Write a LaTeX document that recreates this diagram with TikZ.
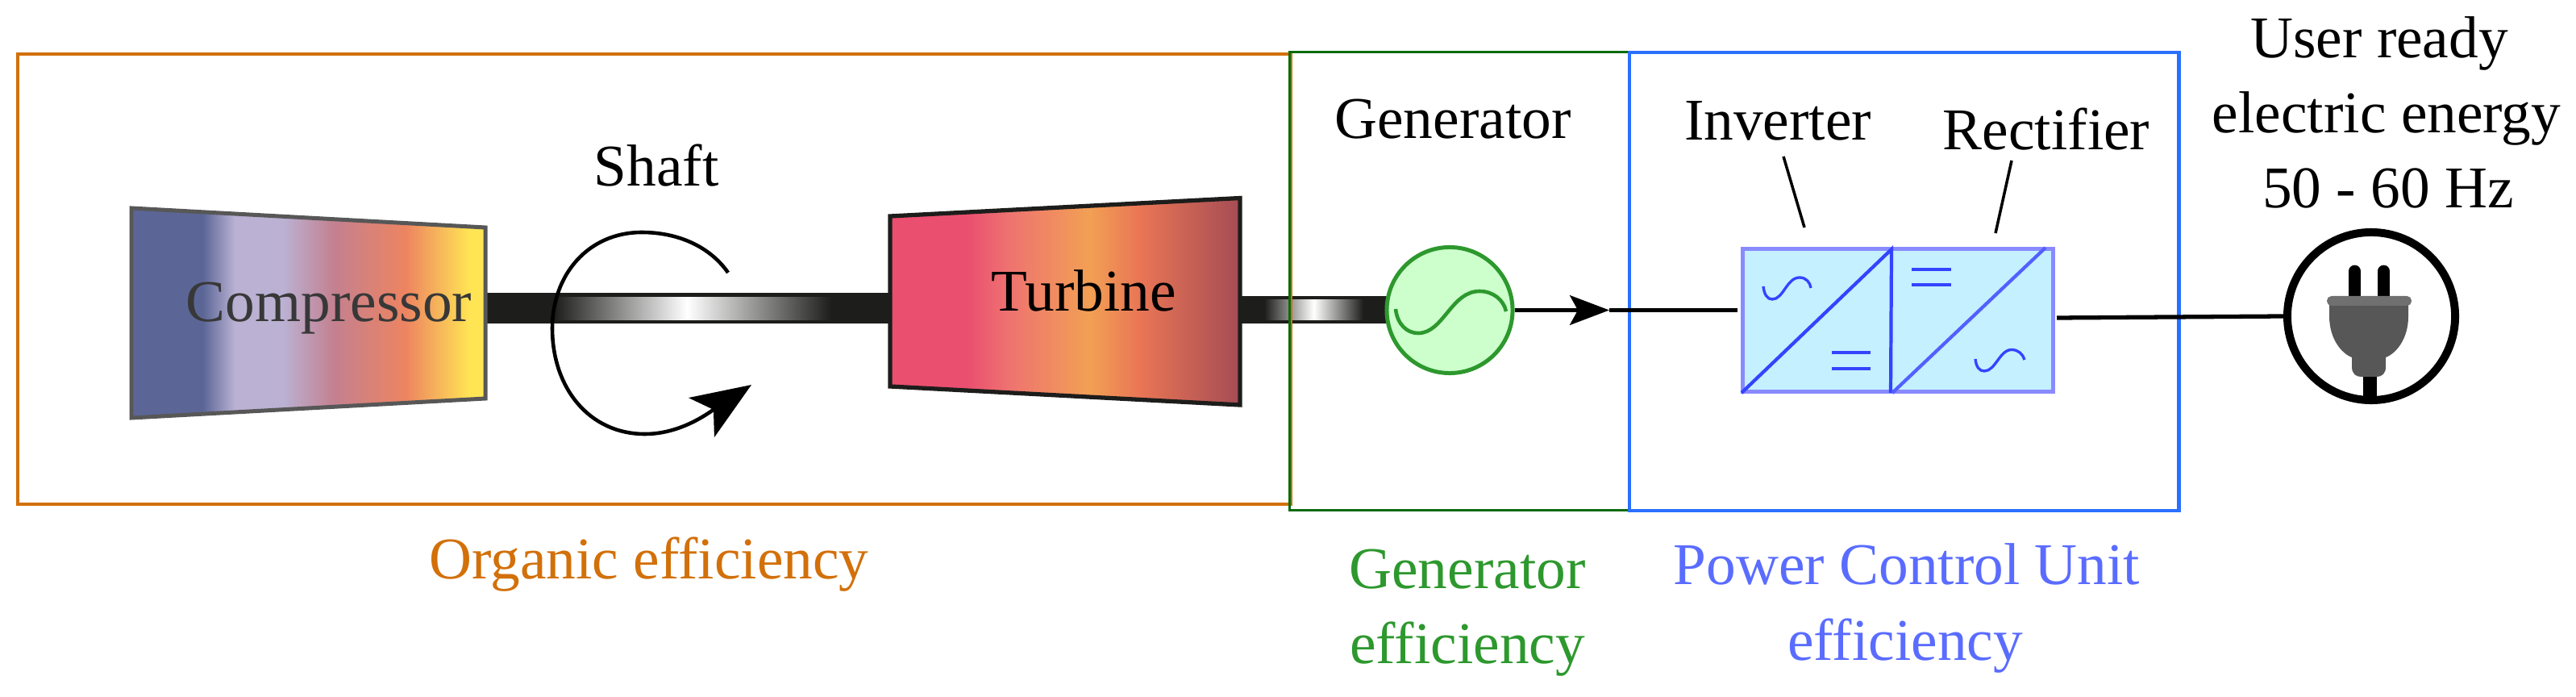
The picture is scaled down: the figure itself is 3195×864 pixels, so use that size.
\documentclass[tikz,border=0pt]{standalone}
\usepackage{fontspec}
\setmainfont{Liberation Serif}
\usetikzlibrary{arrows.meta}
\definecolor{orangebox}{HTML}{D2700A}
\definecolor{greenbox}{HTML}{0B6B0B}
\definecolor{bluebox}{HTML}{2A6FFF}
\definecolor{gengreen}{HTML}{2D982D}
\definecolor{genfill}{HTML}{CCFFCC}
\definecolor{pcufill}{HTML}{C4F0FF}
\definecolor{pcuedge}{HTML}{8A8AFF}
\definecolor{pculine}{HTML}{3344FF}
\definecolor{labelblue}{HTML}{5A6CFF}
\definecolor{shaftdark}{HTML}{1D1D1B}
\definecolor{cA}{HTML}{5B6696}
\definecolor{cB}{HTML}{BAB1D3}
\definecolor{cC}{HTML}{C4808F}
\definecolor{cD}{HTML}{ED8461}
\definecolor{cE}{HTML}{FFE554}
\definecolor{tA}{HTML}{EA4F70}
\definecolor{tB}{HTML}{EE7370}
\definecolor{tC}{HTML}{F2A054}
\definecolor{tD}{HTML}{E97555}
\definecolor{tE}{HTML}{A54C55}
\pgfdeclarehorizontalshading{compshade}{100bp}{color(0bp)=(cA); color(35.1bp)=(cA); color(39.6bp)=(cB); color(46.4bp)=(cB); color(53.7bp)=(cC); color(63.7bp)=(cD); color(72.8bp)=(cE); color(100bp)=(cE)}
\pgfdeclarehorizontalshading{turbshade}{100bp}{color(0bp)=(tA); color(36bp)=(tA); color(42bp)=(tB); color(53.5bp)=(tC); color(60.7bp)=(tD); color(75bp)=(tE); color(100bp)=(tE)}
\pgfdeclarehorizontalshading{shaftone}{100bp}{color(0bp)=(shaftdark); color(25bp)=(shaftdark); color(49bp)=(white); color(75bp)=(shaftdark); color(100bp)=(shaftdark)}
\pgfdeclarehorizontalshading{shafttwo}{100bp}{color(0bp)=(shaftdark); color(25bp)=(shaftdark); color(50bp)=(white); color(75bp)=(shaftdark); color(100bp)=(shaftdark)}
\tikzset{
  x=0.01cm, y=-0.01cm,
  lbl/.style={anchor=base, inner sep=0pt, font=\fontsize{20.85}{24}\selectfont},
  wire/.style={line width=1.5pt, black},
  leader/.style={line width=1pt, black},
  effbox/.style={line width=1.15pt},
  pcusym/.style={line width=0.95pt, pculine},
  pcueq/.style={line width=1.3pt, pculine},
}
\begin{document}
\begin{tikzpicture}
\useasboundingbox (0,0) rectangle (3195,864);
% shafts
\fill[shaftdark] (602,363) rectangle (1105,400.5);
\path[shade, shading=shaftone] (687,369) rectangle (1031,396);
\fill[shaftdark] (1538,367) rectangle (1721,400.5);
\path[shade, shading=shafttwo] (1568,372) rectangle (1691,396);
% efficiency boxes
\node[draw=orangebox, effbox, minimum width=15.78cm, minimum height=5.585cm, inner sep=0pt] (orgbox) at (811,346) {};
\node[draw=greenbox, line width=0.85pt, minimum width=4.21cm, minimum height=5.67cm, inner sep=0pt] (genbox) at (1810.5,348.5) {};
\node[draw=bluebox, effbox, minimum width=6.815cm, minimum height=5.68cm, inner sep=0pt] (pcubox) at (2361.5,349) {};
% compressor, turbine
\path[draw=black!66, line width=1.42pt, shade, shading=compshade] (163,258) -- (602,282) -- (602,494) -- (163,518) -- cycle;
\path[draw=shaftdark, line width=1.5pt, shade, shading=turbshade] (1104,268) -- (1538,245.5) -- (1538,502) -- (1104,479) -- cycle;
% rotation arrow
\draw[line width=1.3pt, -{Stealth[length=21pt, width=16.5pt, inset=5pt]}] (903,338) .. controls (880,305) and (840,288) .. (796,288) .. controls (730,288) and (685,340) .. (685,407) .. controls (685,480) and (730,538) .. (800,538) .. controls (845,538) and (880,511) .. (932,477);
% generator
\node[circle, draw=gengreen, fill=genfill, line width=1.42pt, minimum size=1.56cm, inner sep=0pt] (gen) at (1798,384.5) {};
\draw[gengreen, line width=1.3pt] (1731,383) .. controls (1733,402) and (1745,413) .. (1759,413) .. controls (1790,413) and (1800,361) .. (1835,361) .. controls (1852,361) and (1865,372) .. (1868,386);
% power control unit
\node[draw=pcuedge, fill=pcufill, line width=1.42pt, minimum width=3.85cm, minimum height=1.77cm, inner sep=0pt] (pcu) at (2354,397) {};
\draw[line width=1.2pt, pculine] (2160,487) -- (2346,309) -- (2345,487);
\draw[line width=1.2pt, pculine!85!white] (2347,487) -- (2537,307);
\draw[pcusym] (2187,355) .. controls (2188,365) and (2192,371) .. (2198,371) .. controls (2212,371) and (2216,344) .. (2232,344) .. controls (2240,344) and (2245,350) .. (2246,357);
\draw[pcusym] (2450,445) .. controls (2451,455) and (2455,460) .. (2461,460) .. controls (2475,460) and (2480,433.5) .. (2495,433.5) .. controls (2503,433.5) and (2509,439) .. (2511,446);
\draw[pcueq] (2272,437) -- (2320,437);
\draw[pcueq] (2272,457) -- (2320,457);
\draw[pcueq] (2371,334) -- (2420,334);
\draw[pcueq] (2371,353) -- (2420,353);
% plug
\node[circle, draw=black, line width=2.83pt, minimum size=2.08cm, inner sep=0pt] (plug) at (2941,392) {};
\draw[black, line width=4.2pt, line cap=round] (2920.5,336) -- (2920.5,370);
\draw[black, line width=4.2pt, line cap=round] (2956.5,336) -- (2956.5,370);
\fill[black] (2931,460) rectangle (2948,500);
\fill[black!66] (2889,375) -- (2987,375) -- (2987,392) .. controls (2987,420) and (2972,438) .. (2959,443) -- (2959,455) .. controls (2959,463) and (2954,467) .. (2948,467) -- (2928,467) .. controls (2922,467) and (2917,463) .. (2917,455) -- (2917,443) .. controls (2904,438) and (2889,420) .. (2889,392) -- cycle;
\fill[black!56, rounded corners=1.6pt] (2886,367) rectangle (2991,379);
% connectors
\coordinate (arrowtip) at (1996,384.5);
\coordinate (pcuin) at (2155,384.5);
\coordinate (pcuout) at (2551,394);
\draw[wire, -{Stealth[length=13.9pt, width=10.4pt, inset=2.8pt]}] (gen.east) -- (arrowtip);
\draw[wire] (arrowtip) -- (pcuin);
\draw[wire] (pcuout) -- (plug.west);
\coordinate (invtop) at (2212,194);
\coordinate (invbot) at (2238,282);
\coordinate (rectop) at (2495,199);
\coordinate (recbot) at (2475,289);
\draw[leader] (invtop) -- (invbot);
\draw[leader] (rectop) -- (recbot);
% labels
\node[lbl] (tshaft) at (814,230.6) {Shaft};
\node[lbl, text=black!78] (tcomp) at (408,399) {Compressor};
\node[lbl] (tturb) at (1344,386) {Turbine};
\node[lbl] (tgen) at (1802,172) {Generator};
\node[lbl] (tinv) at (2205,173.5) {Inverter};
\node[lbl] (trec) at (2538,186) {Rectifier};
\node[lbl] (tuserA) at (2951,72) {User ready};
\node[lbl] (tuserB) at (2960,165) {electric energy};
\node[lbl] (tuserC) at (2962,258) {50 - 60 Hz};
\node[lbl, text=orangebox] (torg) at (805,717) {Organic efficiency};
\node[lbl, text=gengreen] (tgeffA) at (1820,729) {Generator};
\node[lbl, text=gengreen] (tgeffB) at (1820,822) {efficiency};
\node[lbl, text=labelblue] (tpcuA) at (2365,724) {Power Control Unit};
\node[lbl, text=labelblue] (tpcuB) at (2363,818) {efficiency};
\end{tikzpicture}
\end{document}
